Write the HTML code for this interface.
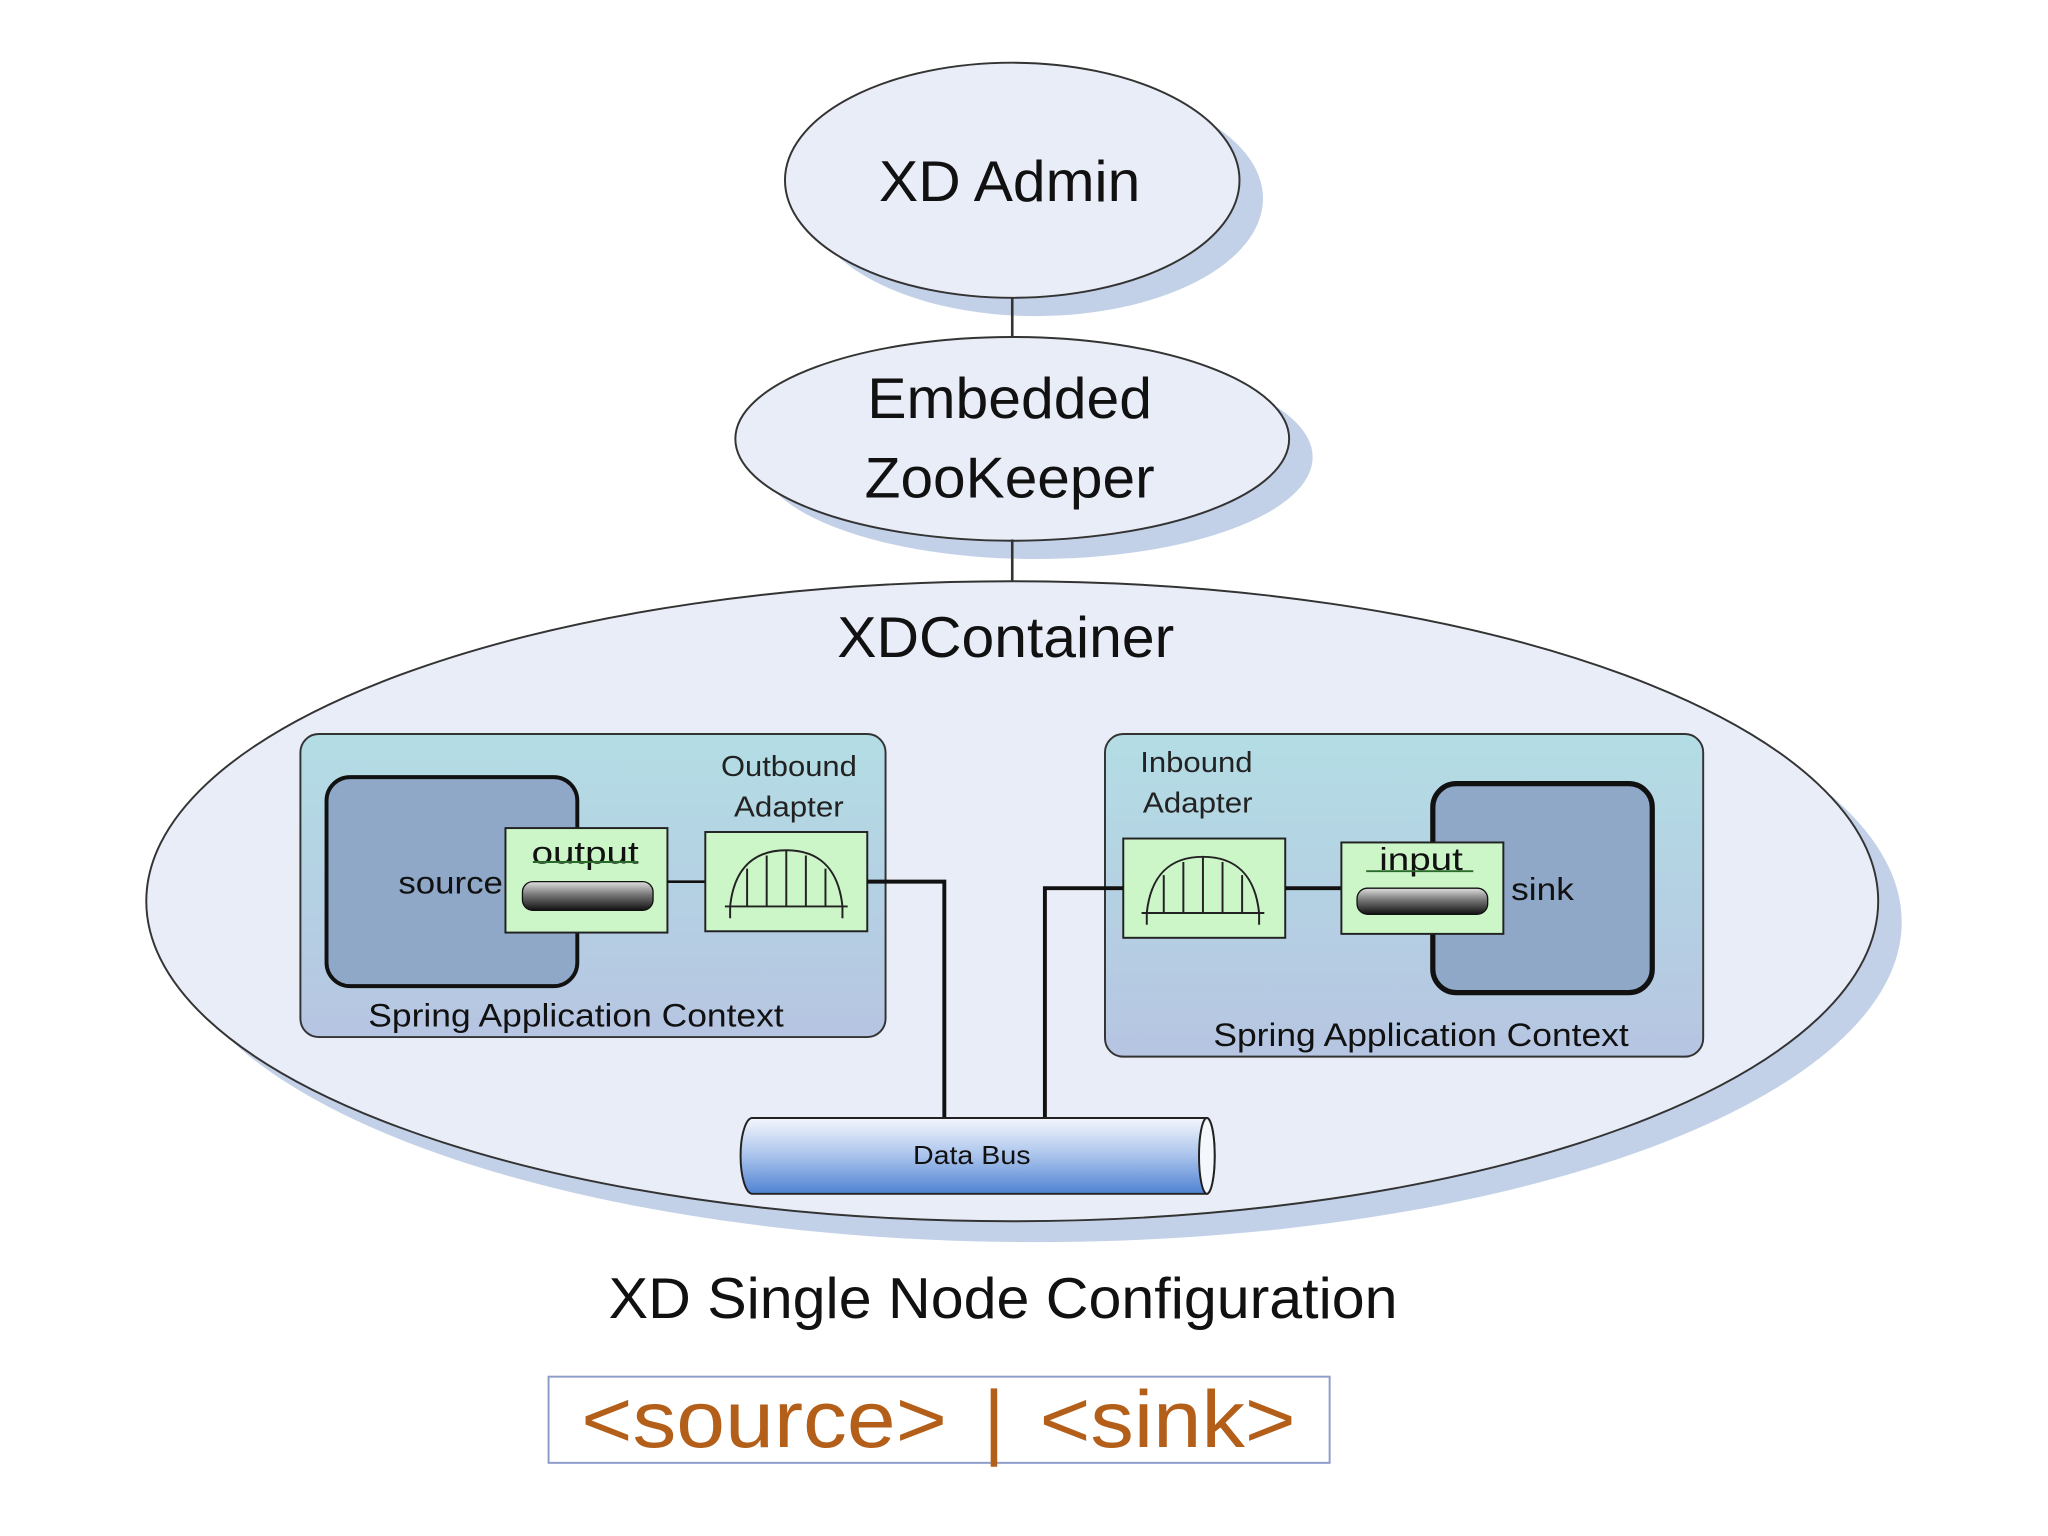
<!DOCTYPE html>
<html><head><meta charset="utf-8"><style>html,body{margin:0;padding:0;background:#fff}svg{display:block}</style></head>
<body>
<svg width="2048" height="1536" viewBox="0 0 1568 1176" xmlns="http://www.w3.org/2000/svg" font-family="Liberation Sans, DejaVu Sans, sans-serif">
<defs>
<linearGradient id="sac" x1="0" y1="0" x2="0" y2="1"><stop offset="0" stop-color="#b3dde4"/><stop offset="1" stop-color="#b6c5e2"/></linearGradient>
<linearGradient id="bus" x1="0" y1="0" x2="0" y2="1"><stop offset="0" stop-color="#f4f7fc"/><stop offset="0.5" stop-color="#a9c3ec"/><stop offset="1" stop-color="#4f82d2"/></linearGradient>
<linearGradient id="cyl" x1="0" y1="0" x2="0" y2="1"><stop offset="0" stop-color="#e0e0e0"/><stop offset="0.45" stop-color="#777"/><stop offset="1" stop-color="#111"/></linearGradient>
<g id="arch">
<path d="M-47,19 L47,19" stroke="#222" stroke-width="1.5" fill="none"/>
<path d="M-43,28 L-43,19 C-40,-10 -25,-24 0,-24 C25,-24 40,-10 43,19 L43,28" stroke="#222" stroke-width="1.5" fill="none"/>
<path d="M-30,19 V-10 M-15,19 V-20 M0,19 V-24 M15,19 V-20 M30,19 V-10" stroke="#222" stroke-width="1.5"/>
</g>
</defs>
<ellipse cx="793" cy="152" rx="174" ry="90" fill="#c3d1e8"/>
<ellipse cx="775" cy="138" rx="174" ry="90" fill="#e9edf7" stroke="#333" stroke-width="1.5"/>
<text x="773" y="154" font-size="44" text-anchor="middle" fill="#111" textLength="200" lengthAdjust="spacingAndGlyphs">XD Admin</text>
<line x1="775" y1="228" x2="775" y2="262" stroke="#333" stroke-width="2"/>
<ellipse cx="793" cy="350" rx="212" ry="78" fill="#c3d1e8"/>
<ellipse cx="775" cy="336" rx="212" ry="78" fill="#e9edf7" stroke="#333" stroke-width="1.5"/>
<text x="773" y="320" font-size="44" text-anchor="middle" fill="#111" textLength="218" lengthAdjust="spacingAndGlyphs">Embedded</text>
<text x="773" y="381" font-size="44" text-anchor="middle" fill="#111" textLength="222" lengthAdjust="spacingAndGlyphs">ZooKeeper</text>
<line x1="775" y1="413" x2="775" y2="445" stroke="#333" stroke-width="2"/>
<ellipse cx="793" cy="706" rx="663" ry="245" fill="#c3d1e8"/>
<ellipse cx="775" cy="690" rx="663" ry="245" fill="#e9edf7" stroke="#333" stroke-width="1.5"/>
<text x="770" y="503" font-size="44" text-anchor="middle" fill="#111" textLength="258" lengthAdjust="spacingAndGlyphs">XDContainer</text>
<rect x="230" y="562" width="448" height="232" rx="14" fill="url(#sac)" stroke="#333" stroke-width="1.5"/>
<rect x="250" y="595" width="192" height="160" rx="18" fill="#8fa8c8" stroke="#111" stroke-width="3"/>
<text x="305" y="684" font-size="24" fill="#111" textLength="80" lengthAdjust="spacingAndGlyphs">source</text>
<rect x="387" y="634" width="124" height="80" fill="#ccf5c8" stroke="#222" stroke-width="1.5"/>
<text x="448" y="661" font-size="24" text-anchor="middle" fill="#111" textLength="82" lengthAdjust="spacingAndGlyphs">output</text>
<line x1="408" y1="660" x2="488" y2="660" stroke="#2a6a2a" stroke-width="1.5"/>
<rect x="400" y="675" width="100" height="22" rx="8" fill="url(#cyl)" stroke="#111"/>
<line x1="511" y1="675" x2="540" y2="675" stroke="#111" stroke-width="2"/>
<rect x="540" y="637" width="124" height="76" fill="#ccf5c8" stroke="#222" stroke-width="1.5"/>
<use href="#arch" x="602" y="675"/>
<text x="604" y="594" font-size="22" text-anchor="middle" fill="#222" textLength="104" lengthAdjust="spacingAndGlyphs">Outbound</text>
<text x="604" y="625" font-size="22" text-anchor="middle" fill="#222" textLength="84" lengthAdjust="spacingAndGlyphs">Adapter</text>
<text x="441" y="786" font-size="25" text-anchor="middle" fill="#111" textLength="318" lengthAdjust="spacingAndGlyphs">Spring Application Context</text>
<polyline points="664,675 723,675 723,857" fill="none" stroke="#111" stroke-width="3"/>
<rect x="846" y="562" width="458" height="247" rx="14" fill="url(#sac)" stroke="#333" stroke-width="1.5"/>
<rect x="1097" y="600" width="168" height="160" rx="18" fill="#8fa8c8" stroke="#111" stroke-width="4"/>
<text x="1157" y="689" font-size="24" fill="#111" textLength="48" lengthAdjust="spacingAndGlyphs">sink</text>
<text x="873" y="591" font-size="22" fill="#222" textLength="86" lengthAdjust="spacingAndGlyphs">Inbound</text>
<text x="875" y="622" font-size="22" fill="#222" textLength="84" lengthAdjust="spacingAndGlyphs">Adapter</text>
<rect x="860" y="642" width="124" height="76" fill="#ccf5c8" stroke="#222" stroke-width="1.5"/>
<use href="#arch" x="921" y="680"/>
<line x1="984" y1="680" x2="1027" y2="680" stroke="#111" stroke-width="3"/>
<rect x="1027" y="645" width="124" height="70" fill="#ccf5c8" stroke="#222" stroke-width="1.5"/>
<text x="1088" y="666" font-size="24" text-anchor="middle" fill="#111" textLength="64" lengthAdjust="spacingAndGlyphs">input</text>
<line x1="1046" y1="667" x2="1128" y2="667" stroke="#2a6a2a" stroke-width="1.5"/>
<rect x="1039" y="680" width="100" height="20" rx="8" fill="url(#cyl)" stroke="#111"/>
<text x="1088" y="801" font-size="25" text-anchor="middle" fill="#111" textLength="318" lengthAdjust="spacingAndGlyphs">Spring Application Context</text>
<polyline points="860,680 800,680 800,857" fill="none" stroke="#111" stroke-width="3"/>
<path d="M576,856 L924,856 A6,29 0 0 1 924,914 L576,914 A9,29 0 0 1 576,856 Z" fill="url(#bus)" stroke="#222" stroke-width="1.5"/>
<ellipse cx="924" cy="885" rx="6" ry="29" fill="#f4f7fc" stroke="#222" stroke-width="1.5"/>
<text x="744" y="891" font-size="20" text-anchor="middle" fill="#111" textLength="90" lengthAdjust="spacingAndGlyphs">Data Bus</text>
<text x="768" y="1009" font-size="44" text-anchor="middle" fill="#111" textLength="604" lengthAdjust="spacingAndGlyphs">XD Single Node Configuration</text>
<rect x="420" y="1054" width="598" height="66" fill="#fff" stroke="#8d9cc8" stroke-width="1.5"/>
<text x="585" y="1108" font-size="62" text-anchor="middle" fill="#b35f1a" textLength="280" lengthAdjust="spacingAndGlyphs">&lt;source&gt;</text>
<line x1="761" y1="1063" x2="761" y2="1123" stroke="#b35f1a" stroke-width="5"/>
<text x="894" y="1108" font-size="62" text-anchor="middle" fill="#b35f1a" textLength="196" lengthAdjust="spacingAndGlyphs">&lt;sink&gt;</text>
</svg>
</body></html>
